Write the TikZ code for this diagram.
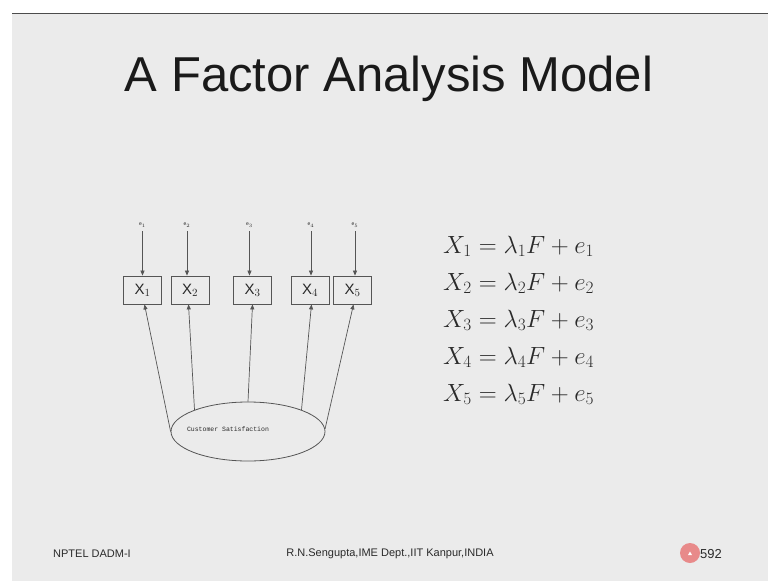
\documentclass[tikz,border=0pt]{standalone}
\usepackage{fontspec}
\setmainfont{Liberation Sans}
\newfontfamily\monofnt{Liberation Mono}
\usetikzlibrary{arrows.meta,shapes.geometric}
\definecolor{slidebg}{HTML}{EBEBEB}
\definecolor{linegray}{HTML}{555555}
\definecolor{titlecol}{HTML}{1A1A1A}
\definecolor{textcol}{HTML}{2A2A2A}
\definecolor{badge}{HTML}{E88A8A}
\tikzset{
  varbox/.style={draw=linegray, line width=0.8pt, minimum width=38pt, minimum height=28pt, inner sep=0pt, font=\fontsize{15}{17}\selectfont, text=textcol},
  errlab/.style={inner sep=0pt, font=\fontsize{5}{6}\selectfont, text=textcol},
  conn/.style={draw=linegray, line width=0.7pt, -{Triangle[length=5pt,width=4pt]}},
  eqn/.style={anchor=base west, inner sep=0pt, font=\fontsize{26}{30}\selectfont, text=textcol},
  foot/.style={inner sep=0pt, font=\fontsize{11}{13}\selectfont, text=textcol}
}
\begin{document}
\begin{tikzpicture}[x=1pt,y=-1pt]
\useasboundingbox (0,0) rectangle (768,581);
\fill[white] (0,0) rectangle (768,581);
\fill[slidebg] (12,13) rectangle (768,581);
\draw[line width=1.6pt, draw=black!70] (12,13.5) -- (768,13.5);
% title
\node[inner sep=0pt, font=\fontsize{49}{55}\selectfont, text=titlecol] (title) at (389,79) {A Factor Analysis Model};
% boxes
\node[varbox] (x1) at (142.5,290) {X$_1$};
\node[varbox] (x2) at (190,290) {X$_2$};
\node[varbox] (x3) at (252.5,290) {X$_3$};
\node[varbox] (x4) at (310,290) {X$_4$};
\node[varbox] (x5) at (352.5,290) {X$_5$};
% error labels
\node[errlab] (e1) at (142.5,225) {e$_1$};
\node[errlab] (e2) at (187,225) {e$_2$};
\node[errlab] (e3) at (249.5,225) {e$_3$};
\node[errlab] (e4) at (311,225) {e$_4$};
\node[errlab] (e5) at (355,225) {e$_5$};
\foreach \i in {1,...,5}{
  \draw[conn] ([yshift=-4pt]e\i.south) -- (e\i.south |- x\i.north);
}
% factor ellipse
\node[ellipse, draw=linegray, line width=0.8pt, minimum width=154pt, minimum height=59pt, inner sep=0pt] (f) at (248,431.5) {};
\node[inner sep=0pt, font=\monofnt\fontsize{6.5}{8}\selectfont, text=textcol] (flab) at (228,429) {Customer Satisfaction};
\draw[conn] (f.180) -- ([xshift=2pt]x1.south);
\draw[conn] (f.158) -- ([xshift=-1.5pt]x2.south);
\draw[conn] (f.90) -- (x3.south);
\draw[conn] (f.22) -- ([xshift=1.5pt]x4.south);
\draw[conn] (f.2) -- ([xshift=1pt]x5.south);
% equations
\node[eqn] (q1) at (443,253) {$X_1 = \lambda_1 F + e_1$};
\node[eqn] (q2) at (443,290) {$X_2 = \lambda_2 F + e_2$};
\node[eqn] (q3) at (443,327) {$X_3 = \lambda_3 F + e_3$};
\node[eqn] (q4) at (443,364) {$X_4 = \lambda_4 F + e_4$};
\node[eqn] (q5) at (443,401) {$X_5 = \lambda_5 F + e_5$};
% footer
\node[foot, anchor=west] (f1) at (53,554) {NPTEL DADM-I};
\node[foot] (f2) at (390,554) {R.N.Sengupta,IME Dept.,IIT Kanpur,INDIA};
\node[circle, fill=badge, minimum size=20pt, inner sep=0pt] (badgec) at (690,553) {};
\fill[white] (688,555) -- (692,555) -- (690,551.5) -- cycle;
\node[foot, anchor=west, font=\fontsize{13}{15}\selectfont] (pg) at (700,554) {592};
\end{tikzpicture}
\end{document}
